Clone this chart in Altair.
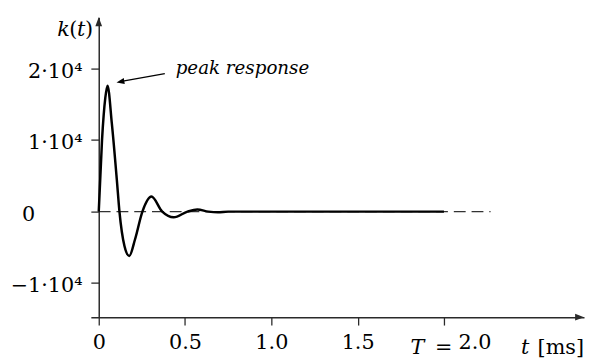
import altair as alt
import pandas as pd

# ---- data ----
T_MS = [0, 0.019, 0.038, 0.051, 0.076, 0.105, 0.12, 0.149, 0.177, 0.21, 0.253,
        0.305, 0.368, 0.434, 0.514, 0.571, 0.635, 0.69, 0.75, 1.0, 1.5, 2.0]
K_VAL = [0, 10000, 15900, 17600, 12300, 4400, 0, -4800, -6200, -3900, 0,
         2100, 0, -800, 0, 300, 0, -100, 0, 0, 0, 0]
DASH_T = [0, 2.27]
DASH_K = [0, 0]
X_TICKS = [0, 0.5, 1.0, 1.5, 2.0]
Y_TICKS = [-10000, 0, 10000, 20000]
X_DOMAIN = [-0.0457, 2.8114]
Y_DOMAIN = [-14759, 27172]

FONT = "DejaVu Serif"
AX = "#2a2a2a"

curve_df = pd.DataFrame({"t": T_MS, "k": K_VAL})
dash_df = pd.DataFrame({"t": DASH_T, "k": DASH_K})

xs = alt.Scale(domain=X_DOMAIN, nice=False, zero=False)
ys = alt.Scale(domain=Y_DOMAIN, nice=False, zero=False)

x_axis = alt.Axis(
    values=X_TICKS, title=None, grid=False, domainColor=AX, domainWidth=1.5,
    tickColor=AX, tickWidth=1.3, tickSize=8, labelFont=FONT, labelFontSize=21,
    labelColor="black", labelPadding=7, labelFlush=False, labelOverlap=False,
    labelExpr="datum.value == 0 ? '0' : format(datum.value, '.1f')",
    labelOffset={"condition": {"test": "datum.value == 2", "value": 31}, "value": 0},
)
y_axis = alt.Axis(
    values=Y_TICKS, title=None, grid=False, domainColor=AX, domainWidth=1.5,
    tickColor=AX, tickWidth=1.3, tickSize=8, labelFont=FONT, labelFontSize=21,
    labelColor="black", labelAlign="right", labelBaseline="middle",
    labelOffset=3, labelFlush=False, labelOverlap=False, offset=-8,
    labelPadding={"condition": {"test": "datum.value == 0", "value": 57}, "value": 9},
    labelExpr="datum.value == 0 ? '0' : replace(format(datum.value / 10000, 'd'), '-', '\u2212') + '\u00b710\u2074'",
)

dash = alt.Chart(dash_df).mark_line(
    color="#333", strokeWidth=1.3, strokeDash=[12, 6]
).encode(
    x=alt.X("t:Q", scale=xs, axis=x_axis),
    y=alt.Y("k:Q", scale=ys, axis=y_axis),
)

curve = alt.Chart(curve_df).mark_line(
    color="black", strokeWidth=2.5, interpolate="monotone"
).encode(x=alt.X("t:Q", scale=xs), y=alt.Y("k:Q", scale=ys))

# axis arrowheads at the ends of the scale domains
xarrow = alt.Chart(pd.DataFrame({"t": [X_DOMAIN[1]], "k": [Y_DOMAIN[0]]})).mark_point(
    shape="M0,0 L-1,-0.38 L-1,0.38 Z", filled=True, color=AX, opacity=1, size=324
).encode(x=alt.X("t:Q", scale=xs), y=alt.Y("k:Q", scale=ys))
yarrow = alt.Chart(pd.DataFrame({"t": [0], "k": [Y_DOMAIN[1]]})).mark_point(
    shape="M0,0 L-0.38,1 L0.38,1 Z", filled=True, color=AX, opacity=1, size=324
).encode(x=alt.X("t:Q", scale=xs), y=alt.Y("k:Q", scale=ys))

one = pd.DataFrame({"d": [0]})

def txt(s, x, y, italic=False, align="left", size=21):
    return alt.Chart(pd.DataFrame({"s": [s]})).mark_text(
        font=FONT, fontSize=size, fontStyle="italic" if italic else "normal",
        align=align, baseline="alphabetic", color="black"
    ).encode(text="s:N", x=alt.value(x), y=alt.value(y))

labels = [
    txt("k", -34, 19, True), txt("(", -22, 19), txt("t", -14, 19, True), txt(")", -6, 19),
    txt("T", 324, 341, True), txt("=", 349, 341),
    txt("t", 436, 341, True), txt("[ms]", 500, 341, align="right"),
]

peak = txt("peak response", 86, 57, True, size=18.5)

arrow_line = alt.Chart(one).mark_rule(color="black", strokeWidth=1.3).encode(
    x=alt.value(75), y=alt.value(57), x2=alt.value(31), y2=alt.value(65)
)
arrow_head = alt.Chart(one).mark_point(
    shape="M0,0 L-1,-0.38 L-1,0.38 Z", filled=True, color="black", opacity=1,
    size=256, angle=170
).encode(x=alt.value(26), y=alt.value(66))

chart = alt.layer(
    dash, curve, xarrow, yarrow, arrow_line, arrow_head, peak, *labels
).properties(
    width=500, height=304,
    autosize=alt.AutoSizeParams(type="none"),
    padding={"left": 84, "top": 7, "right": 1, "bottom": 41},
    background="white",
).configure_view(stroke=None)

chart.save("out.html", embed_options={"renderer": "svg", "actions": False})
